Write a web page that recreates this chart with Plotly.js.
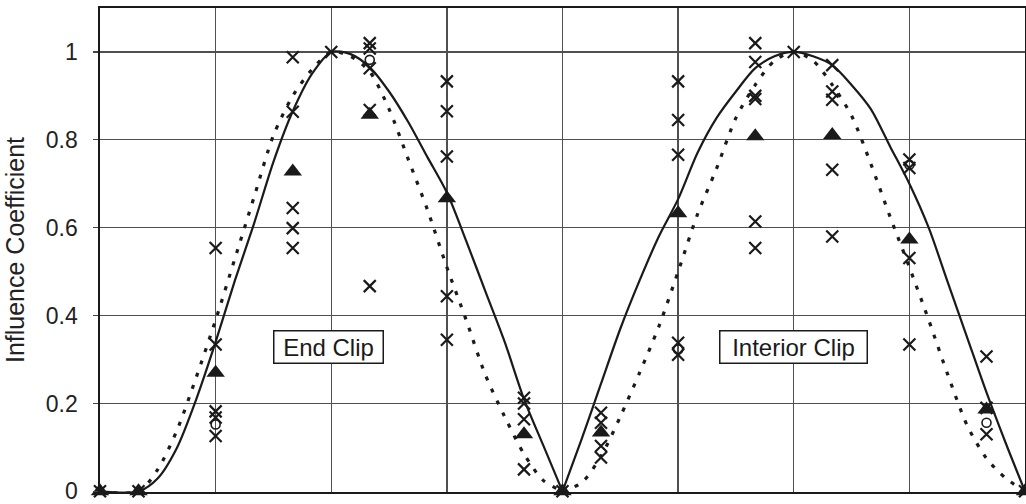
<!DOCTYPE html>
<html>
<head>
<meta charset="utf-8">
<script src="https://cdn.plot.ly/plotly-3.0.1.min.js"></script>
<style>
  html, body { margin: 0; padding: 0; background: #fff; }
  #chart { width: 1026px; height: 504px; }
</style>
</head>
<body>
<div id="chart"></div>
<script>
// Span positions in grid units (one unit per vertical grid line)
const curveX = [0, 0.333, 0.5, 0.667, 0.833, 1, 1.167, 1.333, 1.5, 1.667, 1.833, 2,
                2.167, 2.333, 2.5, 2.667, 2.833, 3, 3.167, 3.333, 3.5, 3.667, 3.833, 4];
const interiorX = [4, 4.167, 4.333, 4.5, 4.667, 4.833, 5, 5.167, 5.333, 5.5, 5.667, 5.833, 6,
                   6.167, 6.333, 6.5, 6.667, 6.833, 7, 7.167, 7.333, 7.5, 7.667, 7.833, 8];

// Theoretical influence lines, end clip span
const endSolid  = [0, 0, 0.03, 0.1, 0.21, 0.34, 0.48, 0.61, 0.75, 0.865, 0.95, 1.0,
                   0.995, 0.965, 0.91, 0.84, 0.76, 0.68, 0.57, 0.455, 0.34, 0.21, 0.105, 0];
const endDotted = [0, 0, 0.05, 0.14, 0.26, 0.39, 0.53, 0.67, 0.81, 0.9, 0.96, 1.0,
                   0.99, 0.955, 0.87, 0.755, 0.64, 0.51, 0.39, 0.265, 0.17, 0.085, 0.025, 0];

// Theoretical influence lines, interior clip span
const intSolid  = [0, 0.12, 0.245, 0.37, 0.48, 0.58, 0.665, 0.77, 0.85, 0.91, 0.963, 0.99, 1.0,
                   0.99, 0.97, 0.925, 0.87, 0.785, 0.7, 0.6, 0.475, 0.35, 0.225, 0.11, 0];
const intDotted = [0, 0.02, 0.08, 0.17, 0.27, 0.375, 0.5, 0.63, 0.735, 0.85, 0.925, 0.98, 1.0,
                   0.98, 0.925, 0.855, 0.745, 0.625, 0.51, 0.39, 0.265, 0.15, 0.075, 0.03, 0];

// Individual measurements
const crossX = [0, 0.333,
  1, 1, 1, 1, 1,
  1.667, 1.667, 1.667, 1.667, 1.667,
  2,
  2.333, 2.333, 2.333, 2.333, 2.333,
  3, 3, 3, 3, 3,
  3.667, 3.667, 3.667, 3.667,
  4,
  4.333, 4.333, 4.333, 4.333,
  5, 5, 5, 5, 5,
  5.667, 5.667, 5.667, 5.667, 5.667, 5.667,
  6,
  6.333, 6.333, 6.333, 6.333, 6.333,
  7, 7, 7, 7,
  7.667, 7.667, 7.667,
  8];
const crossY = [0, 0,
  0.554, 0.334, 0.182, 0.168, 0.126,
  0.988, 0.864, 0.645, 0.599, 0.554,
  1.0,
  1.02, 1.008, 0.963, 0.868, 0.467,
  0.933, 0.865, 0.762, 0.444, 0.345,
  0.213, 0.2, 0.164, 0.05,
  0,
  0.179, 0.156, 0.103, 0.077,
  0.933, 0.845, 0.766, 0.338, 0.311,
  1.02, 0.977, 0.9, 0.893, 0.614, 0.554,
  1.0,
  0.97, 0.91, 0.891, 0.732, 0.58,
  0.755, 0.736, 0.531, 0.334,
  0.307, 0.19, 0.13,
  0];

// Secondary measurements (open markers)
const ringX = [1, 2.333, 5, 7, 7.667];
const ringY = [0.152, 0.982, 0.323, 0.743, 0.156];

// Mean of the measurements at each station
const meanX = [0, 0.333, 1, 1.667, 2.333, 3, 3.667, 4, 4.333, 5, 5.667, 6.333, 7, 7.667, 8];
const meanY = [0, 0, 0.27, 0.728, 0.857, 0.667, 0.13, 0, 0.134, 0.633, 0.808, 0.811, 0.573, 0.186, 0];

const yTicks = [0, 0.2, 0.4, 0.6, 0.8, 1];
const yTickText = ['0', '0.2', '0.4', '0.6', '0.8', '1'];
const panelLabels = ['End Clip', 'Interior Clip'];
const panelLabelX = [1.98, 6.0];

const ink = '#1a1a1a';
const solidLine = { color: ink, width: 2.2, shape: 'spline', smoothing: 0.8 };
const dottedLine = { color: ink, width: 3.2, dash: '4px,9px', shape: 'spline', smoothing: 0.8 };

const traces = [
  { x: curveX, y: endSolid, mode: 'lines', line: solidLine, hoverinfo: 'skip' },
  { x: curveX, y: endDotted, mode: 'lines', line: dottedLine, hoverinfo: 'skip' },
  { x: interiorX, y: intSolid, mode: 'lines', line: solidLine, hoverinfo: 'skip' },
  { x: interiorX, y: intDotted, mode: 'lines', line: dottedLine, hoverinfo: 'skip' },
  { x: crossX, y: crossY, mode: 'markers', cliponaxis: false,
    marker: { symbol: 'x-thin', size: 12, color: ink, line: { color: ink, width: 2.2 } } },
  { x: ringX, y: ringY, mode: 'markers', cliponaxis: false,
    marker: { symbol: 'circle-open', size: 9, color: ink, line: { color: ink, width: 1.6 } } },
  { x: meanX, y: meanY, mode: 'markers', cliponaxis: false,
    marker: { symbol: 'triangle-up', size: 16, color: ink, line: { width: 0 } } }
];

const annotations = panelLabels.map((t, i) => ({
  x: panelLabelX[i], y: 0.328, xref: 'x', yref: 'y',
  text: t, showarrow: false,
  font: { family: 'Liberation Sans, Arial, sans-serif', size: 24, color: ink },
  bgcolor: '#ffffff', bordercolor: ink, borderwidth: 1.5, borderpad: 2,
  width: i === 0 ? 104 : 142, height: 27
}));

const layout = {
  width: 1026, height: 504,
  margin: { l: 100, r: 1, t: 8, b: 12 },
  paper_bgcolor: '#ffffff', plot_bgcolor: '#ffffff',
  showlegend: false,
  font: { family: 'Liberation Sans, Arial, sans-serif', color: ink },
  xaxis: {
    range: [0, 8], dtick: 1, tick0: 0,
    showticklabels: false, ticks: '',
    showgrid: true, gridcolor: '#505050', gridwidth: 1.3,
    showline: true, linecolor: ink, linewidth: 1.6, mirror: true,
    zeroline: false, fixedrange: true
  },
  yaxis: {
    range: [-0.0015, 1.1],
    tickvals: yTicks, ticktext: yTickText,
    ticks: 'outside', ticklen: 5, tickcolor: '#444', tickwidth: 1.2,
    ticklabelstandoff: 11,
    ticklabeloverflow: 'allow',
    tickfont: { size: 23, color: '#222' },
    showgrid: true, gridcolor: '#505050', gridwidth: 1.3,
    showline: true, linecolor: ink, linewidth: 1.6, mirror: true,
    zeroline: false, fixedrange: true,
    title: { text: 'Influence Coefficient', font: { size: 25, color: '#222' }, standoff: 14 }
  },
  annotations: annotations
};

Plotly.newPlot('chart', traces, layout, { staticPlot: true, displayModeBar: false });
</script>
</body>
</html>
